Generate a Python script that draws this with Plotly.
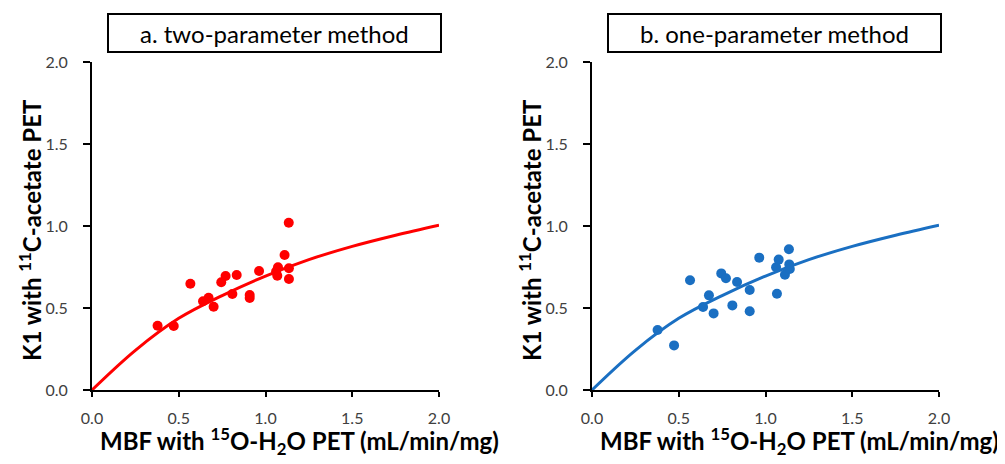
import plotly.graph_objects as go

# Panel a: two-parameter method (MBF vs K1)
mbf_a = [0.378, 0.471, 0.567, 0.640, 0.672, 0.701, 0.745, 0.770, 0.809, 0.834,
         0.909, 0.909, 0.963, 1.061, 1.072, 1.068, 1.110, 1.134, 1.135, 1.135]
k1_a = [0.392, 0.390, 0.648, 0.541, 0.563, 0.508, 0.657, 0.695, 0.585, 0.701,
        0.579, 0.561, 0.726, 0.722, 0.748, 0.697, 0.823, 1.020, 0.742, 0.677]

# Panel b: one-parameter method
mbf_b = [0.378, 0.473, 0.565, 0.640, 0.674, 0.701, 0.745, 0.772, 0.809, 0.836,
         0.909, 0.909, 0.964, 1.061, 1.076, 1.066, 1.112, 1.135, 1.137, 1.140]
k1_b = [0.366, 0.272, 0.669, 0.506, 0.577, 0.467, 0.711, 0.681, 0.516, 0.659,
        0.610, 0.480, 0.807, 0.748, 0.795, 0.587, 0.703, 0.858, 0.766, 0.738]

# Fitted curve
curve_x = [0.0, 0.25, 0.5, 0.75, 1.0, 1.25, 1.5, 1.75, 2.0]
curve_y = [0.0, 0.242, 0.437, 0.576, 0.695, 0.795, 0.876, 0.944, 1.005]

ticks = [0.0, 0.5, 1.0, 1.5, 2.0]
tick_text = ["0.0", "0.5", "1.0", "1.5", "2.0"]

titles = ["a. two-parameter method", "b. one-parameter method"]
x_title = "MBF with <sup>15</sup>O-H<sub>2</sub>O PET (mL/min/mg)"
y_title = "K1 with <sup>11</sup>C-acetate PET"

RED = "#FF0000"
BLUE = "#1A6FC2"
FONT = "Lato, 'Open Sans', Arial, sans-serif"

# page body has an 8px margin; figure sized so page content lines up with the window
OFF = 8
W, H = 1005 - OFF, 464 - OFF
fig = go.Figure()

panels = [(mbf_a, k1_a, RED, "x", "y"), (mbf_b, k1_b, BLUE, "x2", "y2")]
for xs, ys, col, xa, ya in panels:
    fig.add_trace(go.Scatter(x=curve_x, y=curve_y, mode="lines",
                             line=dict(color=col, width=3, shape="spline"),
                             xaxis=xa, yaxis=ya, showlegend=False, hoverinfo="skip"))
    fig.add_trace(go.Scatter(x=xs, y=ys, mode="markers",
                             marker=dict(color=col, size=10, line=dict(width=0)),
                             xaxis=xa, yaxis=ya, showlegend=False))

def px_x(p):
    return (p - OFF) / W

def px_y(p):
    return 1 - (p - OFF) / H

ydom = [px_y(390), px_y(62)]
axis_common = dict(range=[0, 2.0], tickvals=ticks, ticktext=tick_text,
                   showgrid=False, zeroline=False, showline=True,
                   linecolor="black", linewidth=2, ticks="outside",
                   tickcolor="black", tickwidth=2, automargin=False,
                   tickfont=dict(family=FONT, size=16, color="#404040"),
                   fixedrange=True)

fig.update_layout(
    width=W, height=H, margin=dict(l=0, r=0, t=0, b=0, autoexpand=False),
    paper_bgcolor="white", plot_bgcolor="white",
    xaxis=dict(domain=[px_x(92), px_x(439)], anchor="y", ticklen=5, ticklabelstandoff=8, **axis_common),
    yaxis=dict(domain=ydom, anchor="x", ticklen=7, ticklabelstandoff=12, **axis_common),
    xaxis2=dict(domain=[px_x(592), px_x(939)], anchor="y2", ticklen=5, ticklabelstandoff=8, **axis_common),
    yaxis2=dict(domain=ydom, anchor="x2", ticklen=7, ticklabelstandoff=12, **axis_common),
)

offsets = [0, 500]
for i, off in enumerate(offsets):
    x0, x1, y0, y1 = 108 + off, 441 + off, 14, 52
    fig.add_shape(type="rect", xref="paper", yref="paper",
                  x0=px_x(x0), x1=px_x(x1), y0=px_y(y1), y1=px_y(y0),
                  line=dict(color="black", width=2), fillcolor="white")
    fig.add_annotation(xref="paper", yref="paper", x=px_x((x0 + x1) / 2), y=px_y((y0 + y1) / 2),
                       text=titles[i], showarrow=False, xanchor="center", yanchor="middle",
                       font=dict(family=FONT, size=24, color="black"))
    # x axis title
    fig.add_annotation(xref="paper", yref="paper", x=px_x(299 + off), y=px_y(441),
                       text=x_title, showarrow=False, xanchor="center", yanchor="middle",
                       font=dict(family=FONT, size=24, color="black", weight="bold"))
    # y axis title
    fig.add_annotation(xref="paper", yref="paper", x=px_x(30 + off), y=px_y(230),
                       text=y_title, showarrow=False, xanchor="center", yanchor="middle",
                       textangle=-90,
                       font=dict(family=FONT, size=24, color="black", weight="bold"))

fig.write_html("out.html")
